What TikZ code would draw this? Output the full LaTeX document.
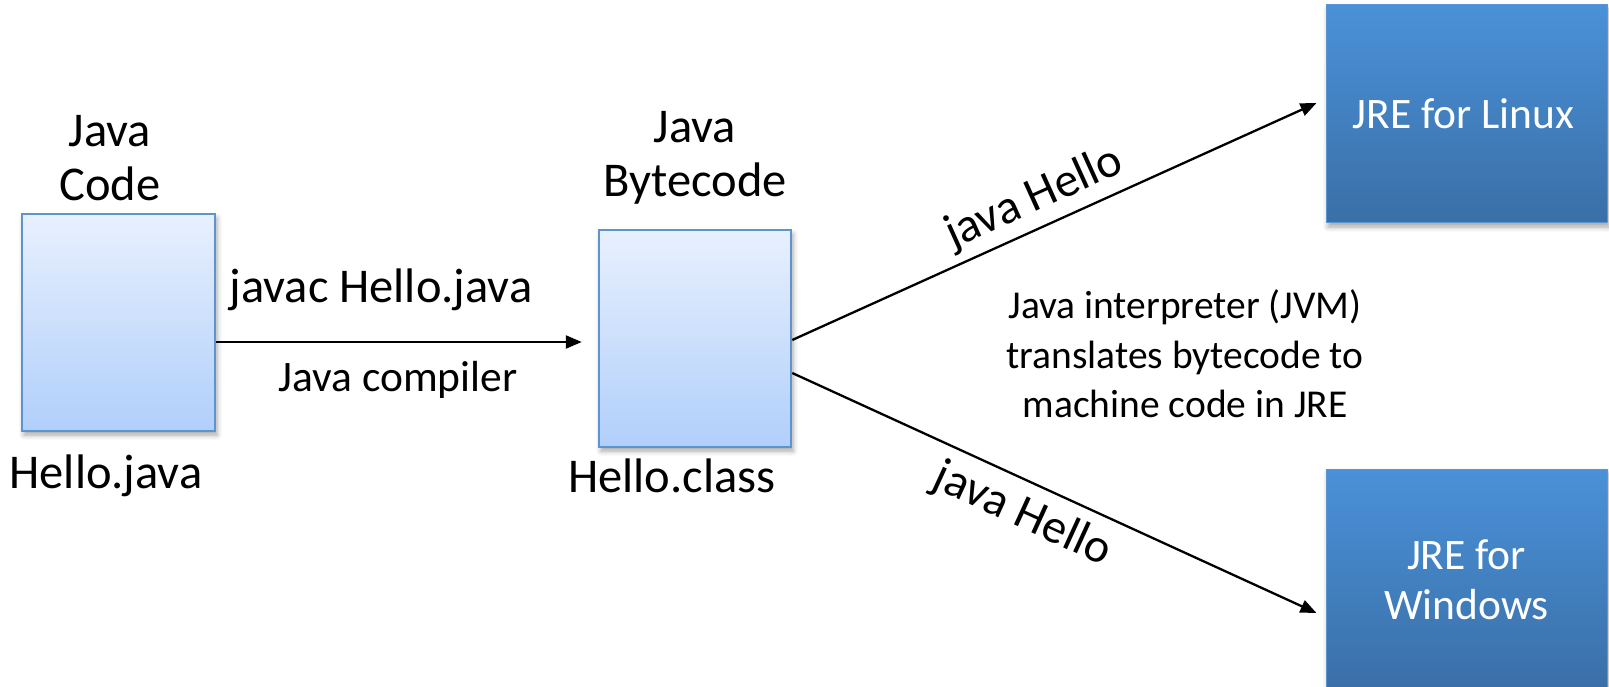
\documentclass[tikz,border=0pt]{standalone}
\usepackage{fontspec}
\setmainfont{Carlito}
\usetikzlibrary{arrows.meta,shadows.blur}
\definecolor{lighttop}{HTML}{E8F0FD}
\definecolor{lightbot}{HTML}{B0CFFB}
\definecolor{lightedge}{HTML}{5E93CE}
\definecolor{darktop}{HTML}{4A91D8}
\definecolor{darkbot}{HTML}{3A6FA7}
\definecolor{darkedge}{HTML}{5A95D4}
\tikzset{
  lightbox/.style={rectangle, draw=lightedge, line width=2.5pt, top color=lighttop, bottom color=lightbot,
    blur shadow={shadow xshift=2pt, shadow yshift=-4pt, shadow blur radius=5pt, shadow opacity=35}},
  darkbox/.style={rectangle, draw=darkedge, line width=1pt, top color=darktop, bottom color=darkbot,
    text=white, align=center, font=\fontsize{43.5}{50}\selectfont,
    blur shadow={shadow xshift=2pt, shadow yshift=-4pt, shadow blur radius=5pt, shadow opacity=35}},
  bigtext/.style={align=center, font=\fontsize{48.5}{54}\selectfont, inner sep=0pt},
  midtext/.style={align=center, font=\fontsize{39.5}{49.5}\selectfont, inner sep=0pt},
  arr/.style={line width=2.3pt, -{Triangle[length=16pt,width=13pt]}},
  edgelabel/.style={font=\fontsize{48}{54}\selectfont, sloped}
}
\begin{document}
\begin{tikzpicture}[x=1pt,y=-1pt]
\useasboundingbox (0,0) rectangle (1609,687);
% boxes
\node[lightbox, minimum width=193pt, minimum height=217pt] (code) at (118.5,322.5) {};
\node[lightbox, minimum width=192pt, minimum height=217pt] (byte) at (695,338.5) {};
\node[darkbox, minimum width=281pt, minimum height=218pt] (linux) at (1466.5,114) {\hspace*{-6pt}JRE for Linux};
\node[darkbox, minimum width=281pt, minimum height=222pt] (win) at (1466.5,580) {JRE for\\Windows};
% texts
\node[bigtext] (codetitle) at (110,158) {Java\\Code};
\node[bigtext] (hellojava) at (106,476) {Hello.java};
\node[bigtext] (bytetitle) at (695,158) {Java\\Bytecode};
\node[bigtext] (helloclass) at (672,476) {Hello.class};
\node[bigtext] (javac) at (381,290) {javac Hello.java};
\node[midtext, font=\fontsize{43.5}{50}\selectfont] (compiler) at (398,380) {Java compiler};
\node[midtext] (interp) at (1185,354) {Java interpreter (JVM)\\translates bytecode to\\machine code in JRE};
% connectors
\coordinate (lt) at ([xshift=-9pt,yshift=11pt]linux.west);
\coordinate (wt) at ([xshift=-9pt,yshift=-33pt]win.west);
\draw[arr, shorten >=16pt] ([yshift=-19.5pt]code.east) -- ([yshift=-19.5pt]code.east -| byte.west);
\draw[arr] ([yshift=-1.5pt]byte.east) -- node[edgelabel, pos=0.485, above=4pt] (lab1) {java Hello} (lt);
\draw[arr] ([yshift=-34.5pt]byte.east) -- node[edgelabel, pos=0.465, below=8pt] (lab2) {java Hello} (wt);
\end{tikzpicture}
\end{document}
